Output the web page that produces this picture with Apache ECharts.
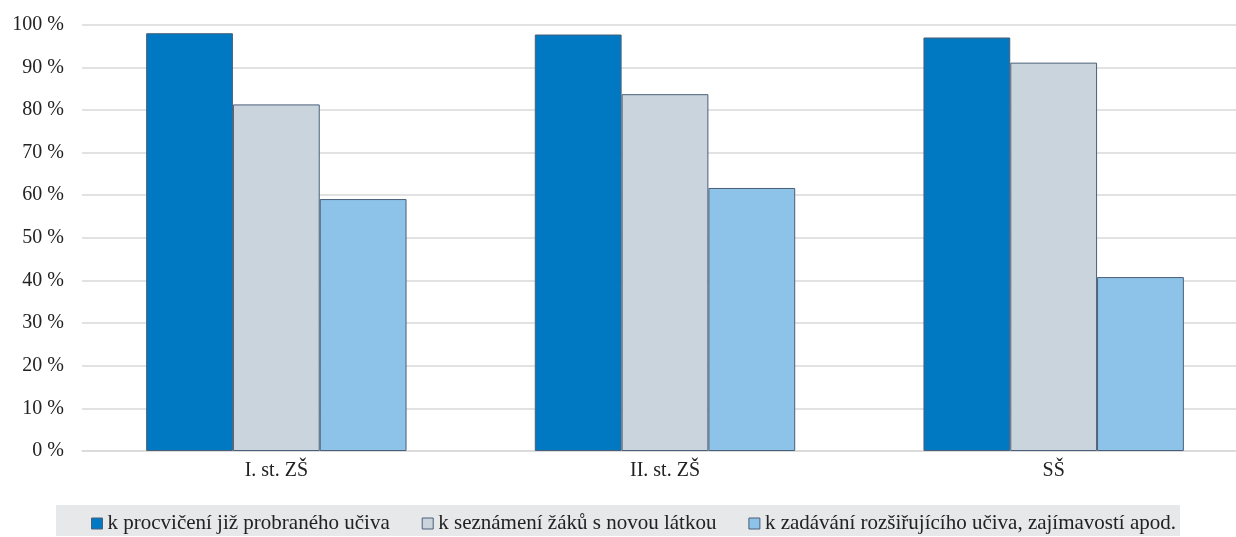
<!DOCTYPE html>
<html><head><meta charset="utf-8">
<script src="https://cdn.jsdelivr.net/npm/echarts@6/dist/echarts.min.js"></script>
<style>html,body{margin:0;padding:0;background:#fff}#c{width:1236px;height:537px}</style>
</head><body><div id="c"></div>
<script>
const categories = ['I. st. ZŠ', 'II. st. ZŠ', 'SŠ'];
const seriesNames = ['k procvičení již probraného učiva', 'k seznámení žáků s novou látkou', 'k zadávání rozšiřujícího učiva, zajímavostí apod.'];
const practice = [98.0, 97.7, 97.0];
const intro = [81.3, 83.7, 91.1];
const extension = [59.1, 61.7, 40.8];
const colors = ['#0079C2', '#CAD4DD', '#8EC3E9'];
const font = '"Liberation Serif", "Times New Roman", serif';
const chart = echarts.init(document.getElementById('c'));
const mk = (name, data, i) => ({
  name, type: 'bar', data, barGap: '0%', barCategoryGap: '33%',
  itemStyle: { color: colors[i], borderColor: '#4A5F78', borderWidth: 1 }
});
chart.setOption({
  animation: false,
  graphic: [{ type: 'rect', shape: { x: 56, y: 505, width: 1124, height: 31 }, style: { fill: '#E7E8EA' }, z: -1 }],
  grid: { left: 82, width: 1166, top: 24.7, bottom: 86, outerBoundsMode: 'none', containLabel: false },
  legend: {
    top: 508, left: 86, itemWidth: 11, itemHeight: 11, itemGap: 32,
    icon: 'rect',
    textStyle: { fontFamily: font, fontSize: 21, color: '#222' },
    data: seriesNames.map((n, i) => ({ name: n, itemStyle: { color: colors[i], borderColor: '#4A5F78', borderWidth: 1 } }))
  },
  xAxis: {
    type: 'category', data: categories,
    axisLine: { lineStyle: { color: '#D9D9D9', width: 1.5 } }, axisTick: { show: false },
    axisLabel: { fontFamily: font, fontSize: 20, color: '#222', margin: 10 }
  },
  yAxis: {
    type: 'value', min: 0, max: 100, interval: 10,
    axisLabel: { formatter: '{value} %', fontFamily: font, fontSize: 20, color: '#222', margin: 18 },
    splitLine: { lineStyle: { color: '#D9D9D9', width: 1.5 } }
  },
  series: [mk(seriesNames[0], practice, 0), mk(seriesNames[1], intro, 1), mk(seriesNames[2], extension, 2)]
});
</script></body></html>
